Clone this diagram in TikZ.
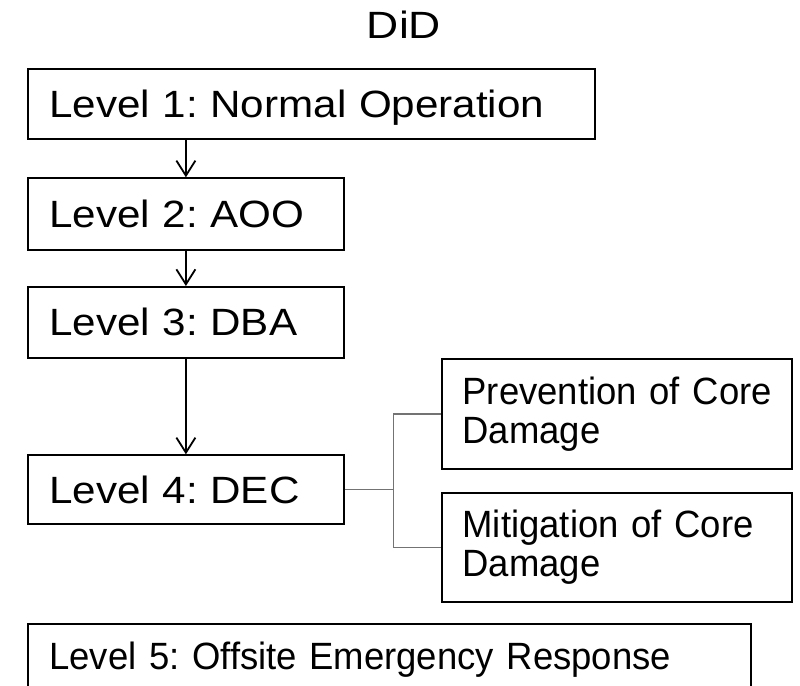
\documentclass[tikz,border=0pt]{standalone}
\usepackage{fontspec}
\setmainfont{Liberation Sans}
\newfontfamily\lvlfont[FakeStretch=1.11]{Liberation Sans}
\newfontfamily\titlefont[FakeStretch=1.17]{Liberation Sans}
\newfontfamily\subfont[FakeStretch=0.96]{Liberation Sans}
\usetikzlibrary{arrows.meta}
\begin{document}
\begin{tikzpicture}[x=1pt,y=-1pt,
  basebox/.style={draw=black, line width=1.8pt, anchor=north west, inner xsep=21pt, inner ysep=0pt,
    align=left},
  lvlbox/.style={basebox, font=\lvlfont\fontsize{38}{39.3}\selectfont\frenchspacing,
    text height=27.2pt, text depth=0pt},
  subbox/.style={basebox, font=\subfont\fontsize{38}{39.3}\selectfont\frenchspacing},
  arr/.style={draw=black, line width=1.8pt, -{Straight Barb[length=15pt,width=19pt,line width=1.8pt]}},
  conn/.style={draw=black!55, line width=1.2pt}]
\clip (0,0) rectangle (800,685);
\node[anchor=base, inner sep=0pt, font=\titlefont\fontsize{38}{39.3}\selectfont] (title) at (404,39) {DiD};
\node[lvlbox, text width=524.7pt, minimum height=70pt] (l1) at (27.3,68.3) {Level 1: Normal Operation};
\node[lvlbox, text width=273.4pt, minimum height=71.7pt] (l2) at (27.3,177.3) {Level 2: AOO};
\node[lvlbox, text width=273.4pt, minimum height=70.7pt] (l3) at (27.3,286) {Level 3: DBA};
\node[lvlbox, text width=273.4pt, minimum height=68.7pt] (l4) at (27.3,454.3) {Level 4: DEC};
\node[subbox, text width=308pt, minimum height=109.4pt] (prev) at (440.7,358.3) {\mbox{Prevention of Core}\\Damage};
\node[subbox, text width=308pt, minimum height=109.3pt] (mit) at (440.7,491.7) {\mbox{Mitigation of Core}\\Damage};
\node[subbox, text width=680.7pt, minimum height=64pt, text height=26.5pt, text depth=0pt] (l5) at (27.3,623.3) {Level 5: Offsite Emergency Response};
\draw[arr] (l1.south -| l2.north) -- (l2.north);
\draw[arr] (l2.south) -- (l3.north);
\draw[arr] (l3.south) -- (l4.north);
\path (l4.east) ++(49,0) coordinate (j);
\draw[conn] (l4.east) -- (j);
\draw[conn] (prev.west) -| (j) |- (mit.west);
\end{tikzpicture}
\end{document}
